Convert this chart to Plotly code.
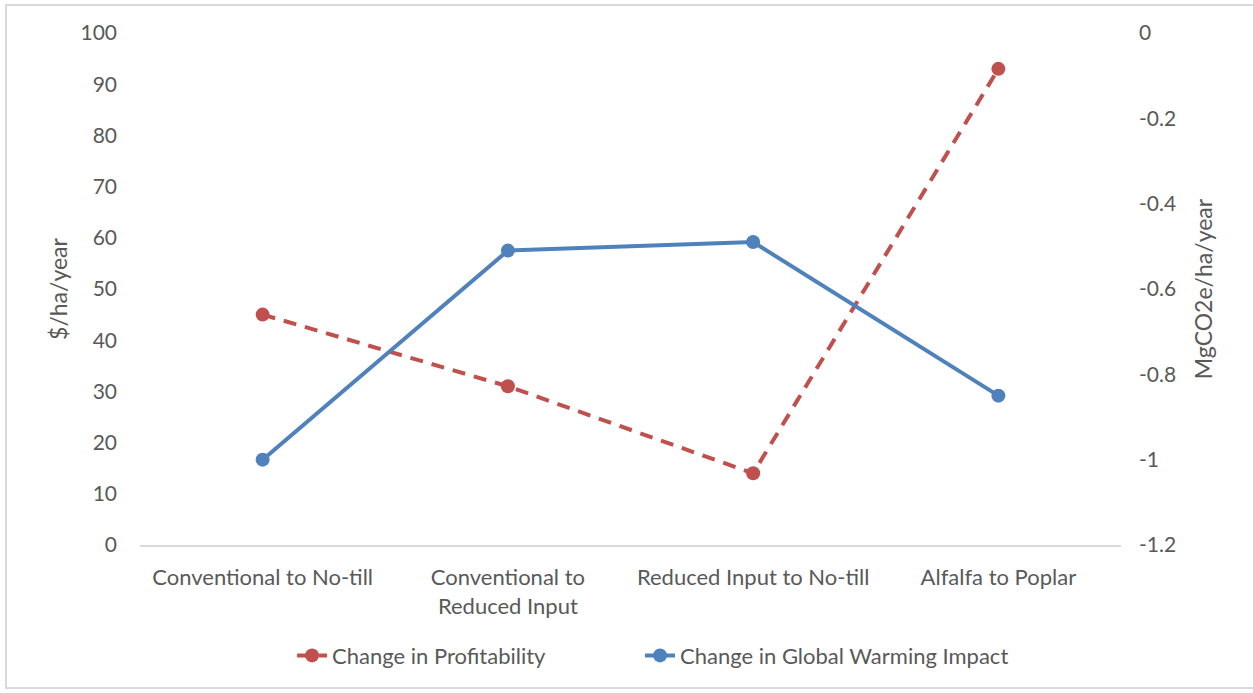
import plotly.graph_objects as go

categories = ["Conventional to No-till", "Conventional to<br>Reduced Input",
              "Reduced Input to No-till", "Alfalfa to Poplar"]
profitability = [45, 31, 14, 93]           # $/ha/year
gwi_change = [-1.0, -0.51, -0.49, -0.85]   # MgCO2e/ha/year

left_ticks = list(range(0, 101, 10))
right_ticks = [0, -0.2, -0.4, -0.6, -0.8, -1, -1.2]

RED = "#C0504D"
BLUE = "#4F81BD"
TXT = "#595959"
FONT = "Lato, 'Open Sans', sans-serif"

fig = go.Figure()
fig.add_trace(go.Scatter(
    x=categories, y=profitability, name="Change in Profitability",
    mode="lines+markers",
    line=dict(color=RED, width=4, dash="13px,9px"),
    marker=dict(color=RED, size=14),
    yaxis="y", legend="legend",
))
fig.add_trace(go.Scatter(
    x=categories, y=gwi_change, name="Change in Global Warming Impact",
    mode="lines+markers",
    line=dict(color=BLUE, width=4),
    marker=dict(color=BLUE, size=14),
    yaxis="y2", legend="legend2",
))

legend_style = dict(orientation="h", y=-0.175, yanchor="top", xanchor="left",
                    font=dict(size=22, color=TXT), bgcolor="rgba(0,0,0,0)")

fig.update_layout(
    width=1253, height=693,
    margin=dict(l=140, r=132, t=33, b=148),
    paper_bgcolor="white", plot_bgcolor="white",
    font=dict(family=FONT, size=21, color=TXT),
    showlegend=True,
    legend=dict(x=0.155, **legend_style),
    legend2=dict(x=0.5097, **legend_style),
    xaxis=dict(
        type="category", range=[-0.5, 3.5], showgrid=False,
        showline=True, linecolor="#D9D9D9", linewidth=2,
        ticks="", tickfont=dict(size=22, color=TXT), ticklabelstandoff=12,
    ),
    yaxis=dict(
        range=[0, 100], tickvals=left_ticks, showgrid=False, zeroline=False,
        showline=False, ticks="", tickfont=dict(size=21, color=TXT),
        ticklabelstandoff=22,
        title=dict(text="$/ha/year", font=dict(size=23, color=TXT), standoff=6),
    ),
    yaxis2=dict(
        range=[-1.2, 0], tickvals=right_ticks,
        ticktext=["0", "-0.2", "-0.4", "-0.6", "-0.8", "-1", "-1.2"],
        overlaying="y", side="right", showgrid=False, zeroline=False,
        showline=False, ticks="", tickfont=dict(size=21, color=TXT),
        ticklabelstandoff=17,
        title=dict(text="MgCO2e/ha/year", font=dict(size=23, color=TXT), standoff=20),
    ),
    shapes=[dict(type="rect", xref="paper", yref="paper",
                 x0=-134 / 981, x1=1131 / 981, y0=-143 / 512, y1=1 + 28 / 512,
                 line=dict(color="#D9D9D9", width=2), fillcolor="rgba(0,0,0,0)",
                 layer="below")],
)

fig.write_html("out.html")
